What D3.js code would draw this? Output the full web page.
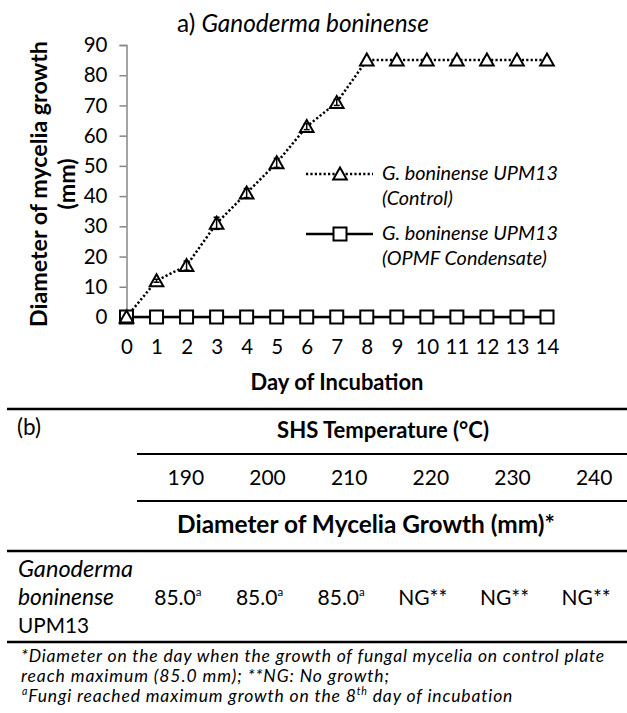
<!DOCTYPE html>
<html>
<head>
<meta charset="utf-8">
<script src="https://cdn.jsdelivr.net/npm/d3@7"></script>
<style>
  html, body { margin: 0; padding: 0; background: #fff; }
  svg { display: block; font-family: Lato, "Open Sans", sans-serif; }
</style>
</head>
<body>
<svg id="chart" width="627" height="713"></svg>
<script>
// ---------- data ----------
const days = [0, 1, 2, 3, 4, 5, 6, 7, 8, 9, 10, 11, 12, 13, 14];
const controlValues = [0, 12, 17, 31, 41, 51, 63, 71, 85, 85, 85, 85, 85, 85, 85];
const controlErrors = [0, 0.5, 1.5, 2, 1.5, 1.5, 1, 1, 0, 0, 0, 0, 0, 0, 0];
const opmfValues = [0, 0, 0, 0, 0, 0, 0, 0, 0, 0, 0, 0, 0, 0, 0];
const yTickValues = [0, 10, 20, 30, 40, 50, 60, 70, 80, 90];
const seriesNames = [["G. boninense UPM13", "(Control)"], ["G. boninense UPM13", "(OPMF Condensate)"]];

const temperatures = ["190", "200", "210", "220", "230", "240"];
const tableValues = ["85.0", "85.0", "85.0", "NG**", "NG**", "NG**"];
const tableSups = ["a", "a", "a", "", "", ""];
const organismLines = ["Ganoderma", "boninense", "UPM13"];
const footnotes = [
  "*Diameter on the day when the growth of fungal mycelia on control plate",
  "reach maximum (85.0 mm); **NG: No growth;"
];

// ---------- helpers ----------
const svg = d3.select("#chart");
function fitWidth(sel, target) {
  const fs = parseFloat(sel.attr("font-size"));
  const w = sel.node().getComputedTextLength();
  sel.attr("font-size", (fs * target / w).toFixed(2));
  return sel;
}
function fitSpacing(sel, target) {
  const n = sel.text().length;
  const w = sel.node().getComputedTextLength();
  sel.attr("letter-spacing", ((target - w) / n).toFixed(3));
  return sel;
}

// ---------- chart (a) ----------
const x = d3.scaleLinear().domain([0, 14]).range([126.5, 547]);
const y = d3.scaleLinear().domain([0, 90]).range([317, 45]);

// title
const title = svg.append("text").attr("x", 177).attr("y", 32).attr("font-size", 20).attr("fill", "#000");
title.append("tspan").text("a) ");
title.append("tspan").attr("font-style", "italic").text("Ganoderma boninense");
fitWidth(title, 252);

// y axis
const yAxis = svg.append("g").attr("transform", `translate(${x(0)},0)`)
  .call(d3.axisLeft(y).tickValues(yTickValues).tickSize(7).tickPadding(12).tickFormat(d3.format("d")));
yAxis.select(".domain").attr("stroke", "#868686").attr("stroke-width", 1.5);
yAxis.selectAll(".tick line").attr("stroke", "#868686").attr("stroke-width", 1.5);
yAxis.selectAll(".tick text").attr("font-size", 20.5).attr("fill", "#000").attr("font-family", "Lato");

// x axis
const xAxis = svg.append("g").attr("transform", `translate(0,${y(0)})`)
  .call(d3.axisBottom(x).tickValues(days).tickSize(0).tickPadding(22).tickFormat(d3.format("d")));
xAxis.select(".domain").attr("stroke", "#868686").attr("stroke-width", 1.5);
xAxis.selectAll(".tick text").attr("font-size", 20.5).attr("fill", "#000").attr("font-family", "Lato");

// axis titles
const xt = svg.append("text").attr("x", 337).attr("y", 390).attr("text-anchor", "middle")
  .attr("font-size", 20).attr("font-weight", "bold").text("Day of Incubation");
fitWidth(xt, 173);

const yt1 = svg.append("text").attr("transform", "translate(47,184) rotate(-90)").attr("text-anchor", "middle")
  .attr("font-size", 20).attr("font-weight", "bold").text("Diameter of mycelia growth");
const ytFs = parseFloat(fitWidth(yt1, 286).attr("font-size"));
svg.append("text").attr("transform", "translate(75,184) rotate(-90)").attr("text-anchor", "middle")
  .attr("font-size", ytFs).attr("font-weight", "bold").text("(mm)");

// series
const lineGen = d3.line().x((d, i) => x(days[i])).y(d => y(d));
const triPath = "M0,-6.5L6.8,5.5L-6.8,5.5Z";

svg.append("path").datum(opmfValues).attr("d", lineGen)
  .attr("fill", "none").attr("stroke", "#000").attr("stroke-width", 2.5);
svg.append("path").datum(controlValues).attr("d", lineGen)
  .attr("fill", "none").attr("stroke", "#000").attr("stroke-width", 2.5)
  .attr("stroke-dasharray", "2.2,2.2");

// OPMF squares
svg.append("g").selectAll("rect").data(opmfValues).join("rect")
  .attr("x", (d, i) => x(days[i]) - 6.5).attr("y", d => y(d) - 6.5)
  .attr("width", 13).attr("height", 13)
  .attr("fill", "#fff").attr("stroke", "#000").attr("stroke-width", 2);

// control triangles
svg.append("g").selectAll("path").data(controlValues).join("path")
  .attr("transform", (d, i) => `translate(${x(days[i])},${y(d)})`)
  .attr("d", triPath)
  .attr("fill", "#fff").attr("stroke", "#000").attr("stroke-width", 2);

// error bars
const eb = svg.append("g").attr("stroke", "#000").attr("stroke-width", 1.5);
controlValues.forEach((v, i) => {
  const e = controlErrors[i];
  if (!e) return;
  const cx = x(days[i]);
  eb.append("line").attr("x1", cx).attr("x2", cx).attr("y1", y(v - e)).attr("y2", y(v + e));
  eb.append("line").attr("x1", cx - 3).attr("x2", cx + 3).attr("y1", y(v - e)).attr("y2", y(v - e));
  eb.append("line").attr("x1", cx - 3).attr("x2", cx + 3).attr("y1", y(v + e)).attr("y2", y(v + e));
});

// legend
const legendY = [174, 234];
const lg = svg.append("g");
lg.append("line").attr("x1", 306).attr("x2", 373).attr("y1", legendY[0]).attr("y2", legendY[0])
  .attr("stroke", "#000").attr("stroke-width", 2.5).attr("stroke-dasharray", "2.2,2.2");
lg.append("path").attr("transform", `translate(340,${legendY[0]})`).attr("d", triPath)
  .attr("fill", "#fff").attr("stroke", "#000").attr("stroke-width", 2);
lg.append("line").attr("x1", 306).attr("x2", 373).attr("y1", legendY[1]).attr("y2", legendY[1])
  .attr("stroke", "#000").attr("stroke-width", 2.5);
lg.append("rect").attr("x", 340 - 6.5).attr("y", legendY[1] - 6.5).attr("width", 13).attr("height", 13)
  .attr("fill", "#fff").attr("stroke", "#000").attr("stroke-width", 2);
let legFs = null;
seriesNames.forEach((lines, k) => {
  lines.forEach((t, j) => {
    const tx = lg.append("text").attr("x", 382).attr("y", legendY[k] + 6 + j * 25)
      .attr("font-size", 19).attr("font-style", "italic").text(t);
    if (legFs === null) legFs = parseFloat(fitWidth(tx, 176).attr("font-size"));
    else tx.attr("font-size", legFs);
  });
});

// ---------- table (b) ----------
const rules = [
  { y: 409, x1: 7, w: 2.5 },
  { y: 454, x1: 137, w: 2 },
  { y: 501, x1: 137, w: 2 },
  { y: 551, x1: 7, w: 2.5 },
  { y: 642, x1: 7, w: 2.5 }
];
svg.append("g").selectAll("line").data(rules).join("line")
  .attr("x1", d => d.x1).attr("x2", 627).attr("y1", d => d.y).attr("y2", d => d.y)
  .attr("stroke", "#000").attr("stroke-width", d => d.w);

svg.append("text").attr("x", 17).attr("y", 435).attr("font-size", 22.5).text("(b)");
const shs = svg.append("text").attr("x", 383).attr("y", 438).attr("text-anchor", "middle")
  .attr("font-size", 20).attr("font-weight", "bold").text("SHS Temperature (°C)");
fitWidth(shs, 212);

const colHead = d3.scalePoint().domain(temperatures).range([145, 635]).padding(0.5);
const colVal = d3.scalePoint().domain(temperatures).range([137, 627]).padding(0.5);

svg.append("g").selectAll("text").data(temperatures).join("text")
  .attr("x", d => colHead(d)).attr("y", 485).attr("text-anchor", "middle")
  .attr("font-size", 21).text(d => d);

const dh = svg.append("text").attr("x", 366).attr("y", 533).attr("text-anchor", "middle")
  .attr("font-size", 20).attr("font-weight", "bold").text("Diameter of Mycelia Growth (mm)*");
fitWidth(dh, 378);

const orgTargets = [115, 96, 71];
organismLines.forEach((t, i) => {
  const ot = svg.append("text").attr("x", 18).attr("y", 577 + i * 28).attr("font-size", 20)
    .attr("font-style", i < 2 ? "italic" : "normal").text(t);
  fitWidth(ot, orgTargets[i]);
});

const vals = svg.append("g").selectAll("text").data(temperatures).join("text")
  .attr("x", d => colVal(d)).attr("y", 605).attr("text-anchor", "middle").attr("font-size", 21);
vals.append("tspan").text((d, i) => tableValues[i]);
vals.append("tspan").attr("font-size", 11.5).attr("dy", -9).text((d, i) => tableSups[i]);

// footnotes
const fnFs = 17.5;
const f1 = svg.append("text").attr("x", 21).attr("y", 662).attr("font-size", fnFs)
  .attr("font-style", "italic").text(footnotes[0]);
fitSpacing(f1, 584);
const f2 = svg.append("text").attr("x", 21).attr("y", 682).attr("font-size", fnFs)
  .attr("font-style", "italic").text(footnotes[1]);
fitSpacing(f2, 369);
const f3 = svg.append("text").attr("x", 22).attr("y", 702).attr("font-size", fnFs).attr("font-style", "italic");
f3.append("tspan").attr("font-size", fnFs * 0.6).attr("dy", -7).text("a");
f3.append("tspan").attr("dy", 7).text("Fungi reached maximum growth on the 8");
f3.append("tspan").attr("font-size", fnFs * 0.6).attr("dy", -7).text("th");
f3.append("tspan").attr("dy", 7).text(" day of incubation");
fitSpacing(f3, 491);
</script>
</body>
</html>
